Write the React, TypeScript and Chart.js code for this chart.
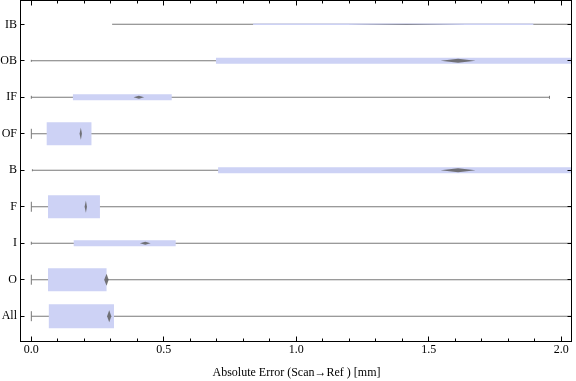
import { useEffect, useRef } from 'react';
import { Chart, registerables } from 'chart.js';

Chart.register(...registerables);

// ---- data (top to bottom) ----
const categories = ['IB', 'OB', 'IF', 'OF', 'B', 'F', 'I', 'O', 'All'];
const whiskerLow = [0.305, 0.0, 0.0, 0.0, 0.004, 0.0, 0.0, 0.0, 0.0];
const whiskerHigh = [2.62, 2.71, 1.956, 2.48, 2.69, 2.55, 2.6, 2.45, 2.66];
const quartile1 = [0.837, 0.697, 0.157, 0.058, 0.705, 0.063, 0.16, 0.063, 0.066];
const quartile3 = [1.895, 2.43, 0.53, 0.227, 2.42, 0.259, 0.545, 0.284, 0.312];
const median = [1.416, 1.611, 0.406, 0.187, 1.611, 0.206, 0.43, 0.284, 0.294];
const notchLow = [1.193, 1.545, 0.386, 0.182, 1.545, 0.201, 0.41, 0.275, 0.286];
const notchHigh = [1.639, 1.677, 0.426, 0.191, 1.677, 0.21, 0.45, 0.292, 0.302];
const xTickValues = [0, 0.5, 1, 1.5, 2];
const xMinorTickValues = [0.1, 0.2, 0.3, 0.4, 0.6, 0.7, 0.8, 0.9, 1.1, 1.2, 1.3, 1.4, 1.6, 1.7, 1.8, 1.9];
const xTitle = 'Absolute Error (Scan\u2192Ref ) [mm]';

// ---- styles (per category) ----
const boxThicknessPx = [1.5, 6, 6, 23, 6, 23, 6, 23, 24];
const capHalfPx = [0, 1, 1.5, 5, 1, 5, 1.5, 5, 5];
const notchHalfHeightPx = [0.45, 2, 1.5, 6, 2, 6, 1.5, 6, 6];
const Y_UNIT_PX = 36.48;

const FONT = "'Liberation Serif', 'Times New Roman', serif";
const BOX_COLOR = 'rgb(205,210,245)';
const WHISKER_COLOR = 'rgb(120,120,120)';
const NOTCH_COLOR = 'rgba(95,95,95,0.85)';

const framePlugin = {
  id: 'frame',
  afterDraw(chart: any) {
    const { ctx, chartArea: a, scales } = chart;
    const xs = scales.x;
    const ys = scales.y;
    const L = Math.round(a.left) - 0.5;
    const R = Math.round(a.right) - 0.5;
    const T = Math.round(a.top) - 0.5;
    const B = Math.round(a.bottom) + 0.5;
    ctx.save();
    ctx.strokeStyle = '#000';
    ctx.lineWidth = 1;
    ctx.strokeRect(L, T, R - L, B - T);
    ctx.beginPath();
    const xt = (v: number, len: number) => {
      const px = Math.floor(xs.getPixelForValue(v)) + 0.5;
      ctx.moveTo(px, B);
      ctx.lineTo(px, B - len);
      ctx.moveTo(px, T);
      ctx.lineTo(px, T + len);
    };
    xTickValues.forEach((v) => xt(v, 5));
    xMinorTickValues.forEach((v) => xt(v, 3));
    categories.forEach((_, i) => {
      const py = Math.floor(ys.getPixelForValue(i)) + 0.5;
      ctx.moveTo(L, py);
      ctx.lineTo(L + 4, py);
      ctx.moveTo(R, py);
      ctx.lineTo(R - 4, py);
    });
    ctx.stroke();
    ctx.restore();
  },
};

export default function App() {
  const ref = useRef<HTMLCanvasElement>(null);

  useEffect(() => {
    const datasets: any[] = [];

    // whiskers
    datasets.push({
      type: 'bar',
      data: categories.map((_, i) => ({ y: i, x: [whiskerLow[i], whiskerHigh[i]] })),
      backgroundColor: WHISKER_COLOR,
      borderWidth: 0,
      maxBarThickness: 1,
      categoryPercentage: 1,
      barPercentage: 1,
      grouped: false,
      inflateAmount: 0,
      order: 5,
    });

    // boxes grouped by thickness
    const thicknesses = Array.from(new Set(boxThicknessPx));
    thicknesses.forEach((t) => {
      datasets.push({
        type: 'bar',
        data: categories
          .map((_, i) => ({ y: i, x: [quartile1[i], quartile3[i]] }))
          .filter((_, i) => boxThicknessPx[i] === t),
        backgroundColor: BOX_COLOR,
        borderWidth: 0,
        maxBarThickness: t,
        categoryPercentage: 1,
        barPercentage: 1,
        grouped: false,
        inflateAmount: 0,
        order: 4,
      });
    });

    // whisker caps
    datasets.push({
      type: 'scatter',
      data: categories.flatMap((_, i) => [
        { x: whiskerLow[i], y: i },
        { x: whiskerHigh[i], y: i },
      ]),
      pointStyle: 'line',
      rotation: 90,
      pointRadius: (c: any) => capHalfPx[c.raw ? c.raw.y : 0] || 0,
      pointHoverRadius: 0,
      borderColor: WHISKER_COLOR,
      backgroundColor: WHISKER_COLOR,
      borderWidth: 1,
      order: 3,
    });

    // median notches (diamonds)
    categories.forEach((_, i) => {
      const hh = notchHalfHeightPx[i] / Y_UNIT_PX;
      datasets.push({
        type: 'line',
        data: [
          { x: notchLow[i], y: i },
          { x: median[i], y: i - hh },
          { x: notchHigh[i], y: i },
          { x: median[i], y: i + hh },
          { x: notchLow[i], y: i },
        ],
        fill: 'shape',
        backgroundColor: NOTCH_COLOR,
        borderColor: 'rgba(0,0,0,0)',
        borderWidth: 0,
        pointRadius: 0,
        tension: 0,
        order: 1,
      });
    });

    const chart = new Chart(ref.current!, {
      type: 'bar',
      data: { datasets },
      options: {
        indexAxis: 'y',
        responsive: false,
        devicePixelRatio: 1,
        animation: false,
        events: [],
        layout: { autoPadding: false, padding: { top: 1, right: 4, bottom: 0, left: 0 } },
        plugins: {
          legend: { display: false },
          tooltip: { enabled: false },
        },
        scales: {
          x: {
            type: 'linear',
            offset: false,
            min: -0.039,
            max: 2.041,
            afterBuildTicks: (s: any) => {
              s.ticks = xTickValues.map((v) => ({ value: v }));
            },
            afterFit: (s: any) => {
              s.height = 40;
              s.paddingLeft = 0;
              s.paddingRight = 0;
            },
            ticks: {
              callback: (v: any) => Number(v).toFixed(1),
              font: { family: FONT, size: 12 },
              color: '#000',
              padding: 2,
              maxRotation: 0,
              autoSkip: false,
            },
            grid: { display: false, drawTicks: false, offset: false },
            border: { display: false },
            title: {
              display: true,
              text: xTitle,
              font: { family: FONT, size: 12 },
              color: '#000',
              padding: { top: 0, bottom: 1 },
            },
          },
          y: {
            type: 'linear',
            offset: false,
            reverse: true,
            min: -0.64,
            max: 8.68,
            afterBuildTicks: (s: any) => {
              s.ticks = categories.map((_, i) => ({ value: i }));
            },
            afterFit: (s: any) => {
              s.width = 21;
              s.paddingTop = 0;
              s.paddingBottom = 0;
            },
            ticks: {
              callback: (v: any) => categories[Math.round(Number(v))] ?? '',
              font: { family: FONT, size: 12 },
              color: '#000',
              padding: 4,
              autoSkip: false,
            },
            grid: { display: false, drawTicks: false, offset: false },
            border: { display: false },
          },
        },
      } as any,
      plugins: [framePlugin],
    });
    return () => chart.destroy();
  }, []);

  return (
    <div style={{ position: 'fixed', left: 0, top: 0, width: 576, height: 381, background: '#fff' }}>
      <canvas ref={ref} width={576} height={381} style={{ display: 'block' }} />
    </div>
  );
}
